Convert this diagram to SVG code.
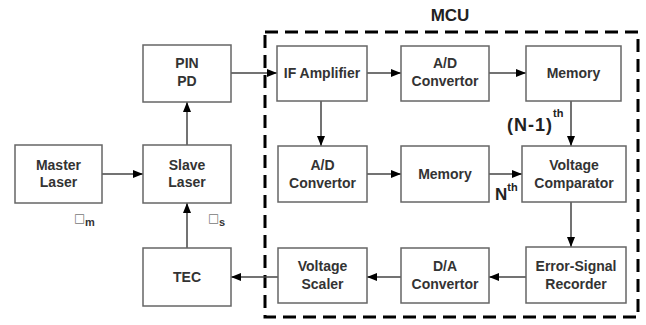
<svg xmlns="http://www.w3.org/2000/svg" width="646" height="325" viewBox="0 0 646 325">
<defs>
<marker id="ah" viewBox="0 0 10 8" refX="10" refY="4" markerWidth="10" markerHeight="8" markerUnits="userSpaceOnUse" orient="auto">
<path d="M0,0 L10,4 L0,8 Z" fill="#000"/>
</marker>
<style>
.box{fill:#fff;stroke:#666;stroke-width:1.5}
.t{font-family:"Liberation Sans",Arial,sans-serif;font-weight:bold;font-size:14px;fill:#333;text-anchor:middle}
.c{stroke:#444;stroke-width:1.5;fill:none;marker-end:url(#ah)}
.lbl{font-family:"Liberation Sans",Arial,sans-serif;font-weight:bold;fill:#222}
.sym{font-family:"DejaVu Sans",sans-serif;font-size:12px;fill:#777}
.sub{font-family:"Liberation Sans",Arial,sans-serif;font-weight:bold;font-size:11px;fill:#333}
</style>
</defs>
<rect width="646" height="325" fill="#fff"/>
<g id="mcu">
<rect x="265" y="32" width="373" height="285" fill="none" stroke="#000" stroke-width="3" stroke-dasharray="13,7"/>
<text x="450" y="21" class="lbl" font-size="17" text-anchor="middle" fill="#000">MCU</text>
</g>
<g id="connectors">
<line class="c" x1="102" y1="174" x2="143" y2="174"/>
<line class="c" x1="187" y1="145" x2="187" y2="102"/>
<line class="c" x1="187" y1="248" x2="187" y2="203"/>
<line class="c" x1="231" y1="73" x2="277" y2="73"/>
<line class="c" x1="367" y1="73" x2="401" y2="73"/>
<line class="c" x1="489" y1="73" x2="526" y2="73"/>
<line class="c" x1="571" y1="101" x2="571" y2="146"/>
<line class="c" x1="321" y1="101" x2="321" y2="146"/>
<line class="c" x1="367" y1="174" x2="401" y2="174"/>
<line class="c" x1="489" y1="174" x2="522" y2="174"/>
<line class="c" x1="571" y1="202" x2="571" y2="247"/>
<line class="c" x1="526" y1="277" x2="489" y2="277"/>
<line class="c" x1="401" y1="277" x2="367" y2="277"/>
<line class="c" x1="278" y1="277" x2="231" y2="277"/>
</g>
<g id="master-laser">
<rect class="box" x="15" y="145" width="87" height="58"/>
<text class="t" x="58.5" y="170">Master</text>
<text class="t" x="58.5" y="187">Laser</text>
</g>
<g id="slave-laser">
<rect class="box" x="143" y="145" width="88" height="58"/>
<text class="t" x="187" y="170">Slave</text>
<text class="t" x="187" y="187">Laser</text>
</g>
<g id="pin-pd">
<rect class="box" x="143" y="45" width="88" height="57"/>
<text class="t" x="187" y="68">PIN</text>
<text class="t" x="187" y="86">PD</text>
</g>
<g id="tec">
<rect class="box" x="143" y="248" width="88" height="58"/>
<text class="t" x="187" y="282">TEC</text>
</g>
<g id="omega-m">
<text class="sym" x="74" y="222">□</text>
<text class="sub" x="85" y="226">m</text>
</g>
<g id="omega-s">
<text class="sym" x="208" y="222">□</text>
<text class="sub" x="219" y="226">s</text>
</g>
<g id="if-amplifier">
<rect class="box" x="277" y="46" width="90" height="55"/>
<text class="t" x="322" y="78">IF Amplifier</text>
</g>
<g id="ad-convertor-1">
<rect class="box" x="401" y="46" width="88" height="55"/>
<text class="t" x="445" y="68">A/D</text>
<text class="t" x="445" y="86">Convertor</text>
</g>
<g id="memory-1">
<rect class="box" x="526" y="46" width="95" height="55"/>
<text class="t" x="573.5" y="78">Memory</text>
</g>
<g id="ad-convertor-2">
<rect class="box" x="278" y="146" width="89" height="56"/>
<text class="t" x="322.5" y="170">A/D</text>
<text class="t" x="322.5" y="188">Convertor</text>
</g>
<g id="memory-2">
<rect class="box" x="401" y="146" width="88" height="56"/>
<text class="t" x="445" y="179">Memory</text>
</g>
<g id="voltage-comparator">
<rect class="box" x="522" y="146" width="104" height="56"/>
<text class="t" x="574" y="170">Voltage</text>
<text class="t" x="574" y="188">Comparator</text>
</g>
<g id="error-signal-recorder">
<rect class="box" x="526" y="247" width="100" height="56"/>
<text class="t" x="576" y="271">Error-Signal</text>
<text class="t" x="576" y="289">Recorder</text>
</g>
<g id="da-convertor">
<rect class="box" x="401" y="248" width="88" height="55"/>
<text class="t" x="445" y="271">D/A</text>
<text class="t" x="445" y="289">Convertor</text>
</g>
<g id="voltage-scaler">
<rect class="box" x="278" y="248" width="89" height="55"/>
<text class="t" x="322.5" y="271">Voltage</text>
<text class="t" x="322.5" y="289">Scaler</text>
</g>
<g id="labels">
<text class="lbl" x="507" y="131" font-size="18" letter-spacing="1">(N-1)<tspan font-size="11" dy="-14" letter-spacing="0">th</tspan></text>
<text class="lbl" x="495" y="200" font-size="17">N<tspan font-size="11" dy="-9">th</tspan></text>
</g>
</svg>
